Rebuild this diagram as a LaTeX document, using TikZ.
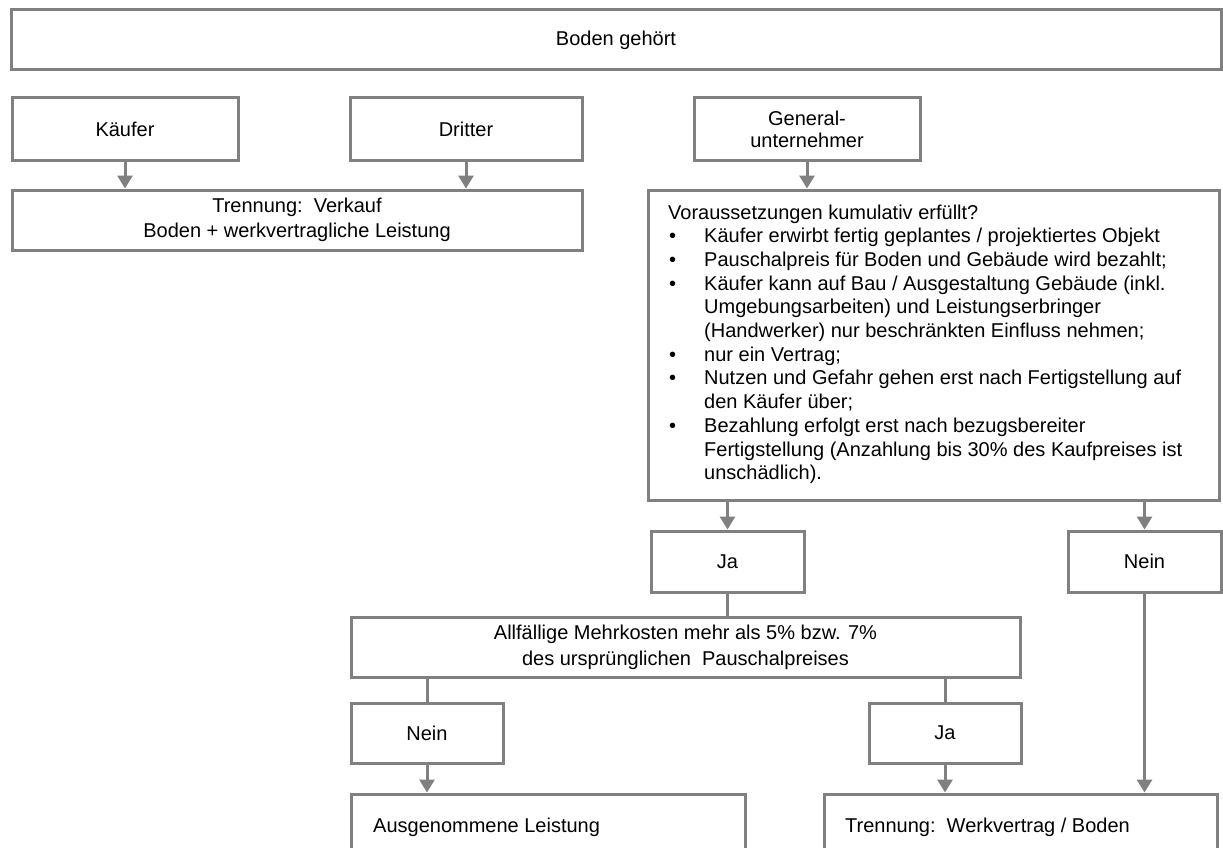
\documentclass[tikz,border=0pt]{standalone}
\usepackage{fontspec}
\setmainfont{Liberation Sans}
\usetikzlibrary{arrows.meta}
\definecolor{boxgray}{RGB}{128,128,128}
\newcommand{\myblt}{\makebox[36pt][l]{\hspace{1pt}\textbullet}}
\newcommand{\myind}{\hspace*{36pt}}
\tikzset{
  box/.style={draw=boxgray, line width=3pt, fill=white, inner sep=0pt, rectangle, align=center, font=\fontsize{20}{24}\selectfont},
  lbl/.style={inner sep=0pt, font=\fontsize{20}{24}\selectfont},
  arr/.style={draw=boxgray, line width=3pt, -{Triangle[width=15pt,length=13pt]}},
  conn/.style={draw=boxgray, line width=3pt}
}
\begin{document}
\begin{tikzpicture}[x=1pt,y=-1pt]
\useasboundingbox (0,0) rectangle (1223,848);
\fill[white] (0,0) rectangle (1223,848);
\clip (0,0) rectangle (1223,848);

\node[box, minimum width=1210pt, minimum height=60pt] (boden) at (616,40) {Boden gehört};

\node[box, minimum width=226pt, minimum height=62pt] (kaeufer) at (125,129) {Käufer};
\node[box, minimum width=232pt, minimum height=62pt] (dritter) at (466,129) {Dritter};
\node[box, minimum width=226pt, minimum height=62pt] (gu) at (807,129) {General-\\[-2pt]unternehmer};

\node[box, minimum width=570pt, minimum height=60pt, font=\fontsize{20}{25}\selectfont] (trennv) at (297,220) {Trennung:\ \ Verkauf\\Boden + werkvertragliche Leistung};

\node[box, minimum width=571pt, minimum height=310pt] (vor) at (933.5,345) {};
\node[lbl, anchor=base west] (vortext) at (668,219) {\parbox[t]{545pt}{\fontsize{20}{23.7}\selectfont
Voraussetzungen kumulativ erfüllt?\\
\myblt Käufer erwirbt fertig geplantes / projektiertes Objekt\\
\myblt Pauschalpreis für Boden und Gebäude wird bezahlt;\\
\myblt Käufer kann auf Bau / Ausgestaltung Gebäude (inkl.\\
\myind Umgebungsarbeiten) und Leistungserbringer\\
\myind (Handwerker) nur beschränkten Einfluss nehmen;\\
\myblt nur ein Vertrag;\\
\myblt Nutzen und Gefahr gehen erst nach Fertigstellung auf\\
\myind den Käufer über;\\
\myblt Bezahlung erfolgt erst nach bezugsbereiter\\
\myind Fertigstellung (Anzahlung bis 30\% des Kaufpreises ist\\
\myind unschädlich).}};

\node[box, minimum width=153pt, minimum height=61pt] (ja1) at (727.5,561.5) {Ja};
\node[box, minimum width=153pt, minimum height=61pt] (nein1) at (1144.5,561.5) {Nein};

\node[box, minimum width=669pt, minimum height=60pt, font=\fontsize{20}{26}\selectfont] (allf) at (685.5,647) {Allfällige Mehrkosten mehr als 5\% bzw. 7\%\\des ursprünglichen\ \ Pauschalpreises};

\node[box, minimum width=152pt, minimum height=60pt] (nein2) at (427,733) {Nein};
\node[box, minimum width=152pt, minimum height=60pt] (ja2) at (945,733) {Ja};

\node[box, minimum width=394pt, minimum height=100pt] (ausg) at (548,844) {};
\node[lbl, anchor=base west] (ausgt) at (373,832) {Ausgenommene Leistung};
\node[box, minimum width=393pt, minimum height=100pt] (trennw) at (1020.5,844) {};
\node[lbl, anchor=base west] (trennwt) at (845,832) {Trennung:\ \ Werkvertrag / Boden};

\draw[arr] (kaeufer.south) -- (kaeufer.south |- trennv.north);
\draw[arr] (dritter.south) -- (dritter.south |- trennv.north);
\draw[arr] (gu.south) -- (gu.south |- vor.north);
\draw[arr] (ja1.north |- vor.south) -- (ja1.north);
\draw[arr] (nein1.north |- vor.south) -- (nein1.north);
\draw[conn] (ja1.south) -- (ja1.south |- allf.north);
\draw[conn] (nein2.north |- allf.south) -- (nein2.north);
\draw[conn] (ja2.north |- allf.south) -- (ja2.north);
\draw[arr] (nein2.south) -- (nein2.south |- ausg.north);
\draw[arr] (ja2.south) -- (ja2.south |- trennw.north);
\draw[arr] (nein1.south) -- (nein1.south |- trennw.north);
\end{tikzpicture}
\end{document}
